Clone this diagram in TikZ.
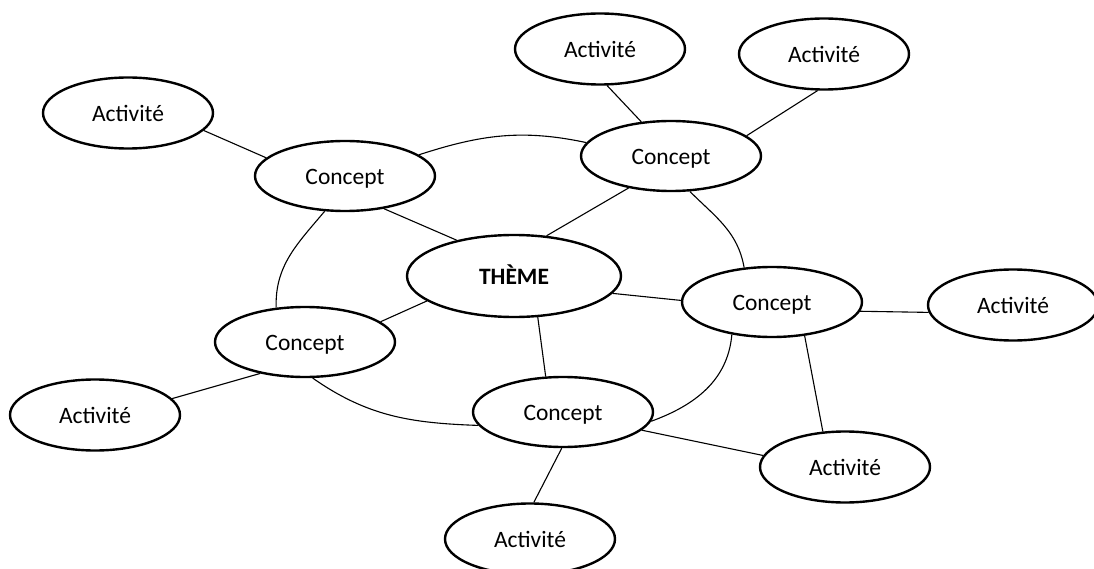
\documentclass[tikz,border=0pt]{standalone}
\usepackage{fontspec}
\setmainfont{Carlito}
\usetikzlibrary{shapes.geometric}
\tikzset{
  bubble/.style={ellipse, draw, line width=2.4pt, inner sep=0pt, text height=17pt, text depth=0pt, font=\fontsize{23.5}{28}\selectfont},
  actbox/.style={bubble, minimum width=170pt, minimum height=71pt},
  conbox/.style={bubble, minimum width=180pt, minimum height=70pt},
  themebox/.style={bubble, minimum width=214pt, minimum height=82pt, font=\fontsize{23.5}{28}\selectfont\bfseries},
  link/.style={line width=1.1pt}
}
\begin{document}
\begin{tikzpicture}[x=1pt,y=1pt]
\useasboundingbox (0,0) rectangle (1094,-569);
\node[themebox] (T) at (514,-276) {THÈME};
\node[conbox] (CTL) at (345,-176) {Concept};
\node[conbox] (CT) at (671,-156) {Concept};
\node[conbox] (CR) at (772,-302) {Concept};
\node[conbox] (CL) at (305,-342) {Concept};
\node[conbox] (CB) at (563,-412) {Concept};
\node[actbox] (ATL) at (128,-113) {Activité};
\node[actbox] (AT) at (600,-49) {Activité};
\node[actbox] (ATR) at (824,-54) {Activité};
\node[actbox] (AR) at (1013,-305) {Activité};
\node[actbox] (AL) at (95,-415) {Activité};
\node[actbox] (ABR) at (845,-467) {Activité};
\node[actbox] (AB) at (530,-539) {Activité};
% straight links
\draw[link] (ATL.-13) -- (CTL.167);
\draw[link] (CTL.-40) -- (T.148);
\draw[link] (CT.131) -- (AT.-79);
\draw[link] (CT.15) -- (ATR.-100);
\draw[link] (CT.-143) -- (T.51);
\draw[link] (T.-10) -- (CR.179);
\draw[link] (CR.-6) -- (AR.185);
\draw[link] (CR.-46) -- (ABR.122);
\draw[link] (T.196) -- (CL.15);
\draw[link] (AL.12) -- (CL.215);
\draw[link] (T.-60) -- (CB.116);
\draw[link] (CB.-13) -- (ABR.172);
\draw[link] (CB.-92) -- (AB.84);
% curved links
\draw[link] (CTL.16) to[out=18,in=168] (CT.171);
\draw[link] (CT.-62) to[out=-45,in=100] (CR.129);
\draw[link] (CTL.-120) to[out=-130,in=92] (CL.130);
\draw[link] (CL.-78) to[out=-35,in=178] (CB.189);
\draw[link] (CR.-141) to[out=-95,in=20] (CB.-6);
\end{tikzpicture}
\end{document}
